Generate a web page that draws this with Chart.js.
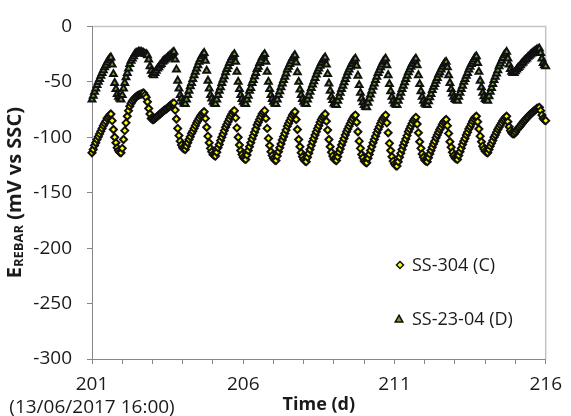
<!DOCTYPE html>
<html>
<head>
<meta charset="utf-8">
<script src="https://cdn.jsdelivr.net/npm/chart.js@4.4.1/dist/chart.umd.min.js"></script>
<style>
  html, body { margin: 0; padding: 0; background: #fff; }
  #wrap { width: 571px; height: 416px; }
</style>
</head>
<body>
<div id="wrap"><canvas id="chart" width="571" height="416"></canvas></div>
<script>
/* E_REBAR of two stainless bars, hourly readings from day 201 to 216 */

const FONT = "'Open Sans', sans-serif";
const TEXT = '#1a1a1a';
const AXIS = '#868686';
const OUTLINE = '#101010';

const START_DAY = 201;
const POINTS_PER_DAY = 24;   // one reading per hour

const SERIES_NAMES = ['SS-304 (C)', 'SS-23-04 (D)'];
const X_TICK_LABELS = {
  201: ['201', '(13/06/2017 16:00)'],
  206: '206',
  211: '211',
  216: '216',
};

// SS-304 (C), mV vs SSC
const ss304 = [
  -114, -111, -107.5, -105, -102, -99.5, -97, -94.5, -92, -89.5, -87.5, -85.5, -83, -81.5, -80, -79,
  -85, -93, -100, -105, -109.5, -112, -113.5, -114,
  -110, -102, -94, -87, -81, -76, -72, -69.5, -67.5, -66, -64.5, -63.5, -62.5, -62, -61.5, -61, -60.5, -60,
  -62, -64, -68, -74, -79, -83, -84, -84,
  -83, -82, -81, -80, -79, -78, -77, -76, -75, -74.5, -73.5, -72.5, -71.5, -70.5, -69.5, -69,
  -75.5, -83.5, -92, -98.5, -103.5, -107, -109.5, -110.5, -111,
  -108, -105, -102, -99.5, -96.5, -94.5, -92, -89.5, -87, -85, -83, -81, -79.5, -78, -77,
  -83, -91, -99, -105, -110, -113, -115.5, -116.5, -117,
  -113.5, -109.5, -106.5, -103, -100, -97, -94, -91, -88.5, -86, -83.5, -81, -79, -77, -76,
  -82.5, -91.5, -100, -107, -112, -115.5, -118, -119.5, -120,
  -116, -112, -108.5, -105, -101.5, -98.5, -95.5, -92.5, -89, -86.5, -84, -81.5, -79, -77.5, -76,
  -83, -92, -101, -107.5, -113, -116.5, -119, -120.5, -121,
  -117, -113, -109.5, -106, -102.5, -99.5, -96.5, -93.5, -90, -87.5, -85, -82.5, -80, -78.5, -77,
  -84, -93, -102, -108.5, -114, -117.5, -120, -121.5, -122,
  -118, -114.5, -111, -107.5, -104, -101, -98, -95, -92, -89.5, -86.5, -84, -82, -80.5, -79,
  -85.5, -93.5, -102, -108.5, -113.5, -117, -119.5, -120.5, -121,
  -117.5, -113.5, -110.5, -107, -104, -101, -98, -95, -92.5, -90, -87.5, -85, -83, -81, -80,
  -86.5, -95, -103.5, -110, -115.5, -118.5, -121.5, -122.5, -123,
  -119, -115.5, -112, -108.5, -105, -102, -99, -96, -93, -90.5, -87.5, -85, -83, -81.5, -80,
  -87, -96, -105.5, -112, -117.5, -121.5, -124, -125.5, -126,
  -122, -118, -114.5, -111, -107.5, -104.5, -101.5, -98.5, -95, -92.5, -90, -87.5, -85, -83.5, -82,
  -88, -96, -104, -110, -115, -118, -120.5, -121.5, -122,
  -118.5, -115, -112, -109, -106, -103.5, -100.5, -98, -95.5, -93, -91, -88.5, -86.5, -85, -84,
  -89.5, -96.5, -104, -109, -113.5, -116.5, -118.5, -119.5, -120,
  -116.5, -113, -110, -106.5, -103.5, -101, -98, -95.5, -92.5, -90.5, -88, -85.5, -83.5, -82, -81,
  -86, -92.5, -99, -104, -108, -110.5, -112.5, -113.5, -114,
  -111, -108, -105.5, -103, -100, -98, -95.5, -93, -91, -89, -87, -85, -83.5, -82, -81,
  -86, -90.5, -94, -96, -97,
  -97,
  -95.5, -93.5, -92, -91, -89.5, -88, -86.5, -85, -84, -82.5, -81.5, -80, -79, -78, -77, -76, -75, -74, -73.5, -73,
  -76, -80, -83, -84.5, -85,
];

// SS-23-04 (D), mV vs SSC
const ss2304 = [
  -66, -62.5, -59, -56, -53, -50, -47.5, -44.5, -42, -39.5, -37, -35, -32.5, -30.5, -29, -28,
  -34.5, -43, -51, -56.5, -61, -63.5, -65, -66,
  -62, -56, -51, -46, -42, -38, -34, -31, -29, -27, -25, -24,
  -24, -23, -23, -23, -24, -24, -25, -25, -26,
  -30, -36, -40, -43, -44,
  -42, -40, -38, -37, -35, -34, -32, -31, -30, -29, -28, -27, -26, -25, -24, -23,
  -30, -39, -49, -56, -62, -65, -68, -69.5, -70,
  -66, -62, -58, -54, -51, -47.5, -44, -41, -38, -35, -32, -29.5, -27, -25.5, -24,
  -31, -40, -49, -56, -62, -65, -68, -69.5, -70,
  -66, -62, -58, -55, -51, -48, -45, -41.5, -38.5, -36, -33, -30.5, -28, -26.5, -25,
  -32, -41, -50, -56.5, -62, -65.5, -68, -69.5, -70,
  -66, -62.5, -58, -55.5, -51, -48.5, -45, -42, -38.5, -36.5, -33, -31, -28, -26.5, -25,
  -32, -41, -50, -56.5, -62, -65.5, -68, -69.5, -70,
  -66, -62, -58.5, -55, -51.5, -48.5, -45.5, -42.5, -39, -36.5, -34, -31.5, -29, -27.5, -26,
  -32.5, -41.5, -50, -57, -62, -65.5, -68, -69.5, -70,
  -66, -62.5, -59, -55.5, -52.5, -49.5, -46.5, -43.5, -40.5, -38, -35.5, -33, -31, -29.5, -28,
  -34.5, -43, -51.5, -58, -63.5, -66.5, -69.5, -70.5, -71,
  -67, -63.5, -60, -56.5, -53.5, -50.5, -47.5, -44.5, -41.5, -39, -36.5, -34, -32, -30.5, -29,
  -35.5, -44.5, -53, -60, -65, -68.5, -71, -72.5, -73,
  -69, -65, -61.5, -58, -54.5, -51.5, -48.5, -45.5, -42, -39.5, -37, -34.5, -32, -30.5, -29,
  -35, -44, -52, -58.5, -63.5, -67, -69.5, -70.5, -71,
  -67, -63.5, -60, -56.5, -53.5, -50.5, -47.5, -44.5, -41.5, -39, -36.5, -34, -32, -30.5, -29,
  -35, -44, -52, -58.5, -63.5, -67, -69.5, -70.5, -71,
  -67.5, -64, -61, -57.5, -54.5, -52, -49, -46.5, -43.5, -41.5, -39, -36.5, -34.5, -33, -32,
  -37, -44, -51, -56.5, -60.5, -63.5, -65.5, -66.5, -67,
  -63.5, -60, -56.5, -53.5, -50, -47.5, -44.5, -42, -39, -36.5, -34, -32, -30, -28, -27,
  -33, -41, -49, -55, -60, -63, -65.5, -66.5, -67,
  -63, -59, -55.5, -52, -48.5, -45.5, -42.5, -39.5, -36, -33.5, -31, -28.5, -26, -24.5, -23,
  -29, -34.5, -38.5, -41, -42,
  -42,
  -40.5, -39, -37.5, -36.5, -35, -33.5, -32.5, -31, -30, -29, -27.5, -26.5, -25.5, -24.5, -23.5, -22.5, -22, -21, -20.5, -20,
  -24, -29, -33, -35, -36,
];

function toPoints(values) {
  return values.map((v, i) => ({ x: START_DAY + i / POINTS_PER_DAY, y: v }));
}

function diamond(ctx, x, y, r) {
  ctx.beginPath();
  ctx.moveTo(x, y - r); ctx.lineTo(x + r, y); ctx.lineTo(x, y + r); ctx.lineTo(x - r, y);
  ctx.closePath(); ctx.fill(); ctx.stroke();
}

function triangle(ctx, x, y, r) {
  ctx.beginPath();
  ctx.moveTo(x, y - r); ctx.lineTo(x + r, y + r * 0.8); ctx.lineTo(x - r, y + r * 0.8);
  ctx.closePath(); ctx.fill(); ctx.stroke();
}

const decorations = {
  id: 'decorations',
  beforeDraw(chart) {
    // light plot-area border on top and right
    const { ctx, chartArea: a } = chart;
    ctx.save();
    ctx.strokeStyle = '#c4c4c4';
    ctx.lineWidth = 1.5;
    ctx.beginPath();
    ctx.moveTo(a.left, a.top);
    ctx.lineTo(a.right, a.top);
    ctx.lineTo(a.right, a.bottom);
    ctx.stroke();
    ctx.restore();
  },
  afterDraw(chart) {
    const { ctx, chartArea: a } = chart;
    ctx.save();
    ctx.fillStyle = TEXT;

    // x title
    ctx.font = `bold 18px ${FONT}`;
    ctx.textAlign = 'center';
    ctx.textBaseline = 'middle';
    ctx.fillText('Time (d)', (a.left + a.right) / 2, 405);

    // y title, E with REBAR subscript
    const big = `bold 20px ${FONT}`, small = `bold 13px ${FONT}`;
    ctx.font = big; const wE = ctx.measureText('E').width;
    ctx.font = small; const wSub = ctx.measureText('REBAR').width;
    ctx.font = big; const wRest = ctx.measureText(' (mV vs SSC)').width;
    ctx.save();
    ctx.translate(15, (a.top + a.bottom) / 2);
    ctx.rotate(-Math.PI / 2);
    ctx.textAlign = 'left';
    let x = -(wE + wSub + wRest) / 2;
    ctx.font = big; ctx.fillText('E', x, 0); x += wE;
    ctx.font = small; ctx.fillText('REBAR', x, 4); x += wSub;
    ctx.font = big; ctx.fillText(' (mV vs SSC)', x, 0);
    ctx.restore();

    // legend inside the plot
    ctx.font = `18px ${FONT}`;
    ctx.textAlign = 'left';
    ctx.lineWidth = 1.5;
    ctx.strokeStyle = OUTLINE;
    ctx.fillStyle = '#ffff00';
    diamond(ctx, 400, 265, 3.5);
    ctx.fillStyle = '#72a040';
    triangle(ctx, 399, 319, 3.8);
    ctx.fillStyle = TEXT;
    ctx.fillText(SERIES_NAMES[0], 412, 266);
    ctx.fillText(SERIES_NAMES[1], 412, 320);
    ctx.restore();
  },
};

new Chart(document.getElementById('chart'), {
  type: 'scatter',
  data: {
    datasets: [
      {
        label: SERIES_NAMES[0],
        data: toPoints(ss304),
        pointStyle: 'rectRot',
        pointRadius: 3.5,
        backgroundColor: '#ffff00',
        borderColor: OUTLINE,
        borderWidth: 2,
        clip: false,
      },
      {
        label: SERIES_NAMES[1],
        data: toPoints(ss2304),
        pointStyle: 'triangle',
        pointRadius: 3.9,
        backgroundColor: '#72a040',
        borderColor: OUTLINE,
        borderWidth: 2,
        clip: false,
      },
    ],
  },
  options: {
    responsive: false,
    animation: false,
    events: [],
    layout: { padding: { top: 18, right: 18, left: 0, bottom: 0 } },
    plugins: { legend: { display: false }, tooltip: { enabled: false } },
    scales: {
      x: {
        type: 'linear',
        min: 201, max: 216,
        afterFit(s) { s.height = 57; },
        ticks: {
          stepSize: 1,
          autoSkip: false,
          maxRotation: 0,
          padding: 9,
          color: TEXT,
          font: { family: FONT, size: 19 },
          callback: v => X_TICK_LABELS[v] ?? '',
        },
        grid: { drawOnChartArea: false, tickLength: 5, color: AXIS },
        border: { color: AXIS, width: 1 },
      },
      y: {
        min: -300, max: 0,
        afterFit(s) { s.width = 92; },
        ticks: {
          stepSize: 50,
          padding: 15,
          color: TEXT,
          font: { family: FONT, size: 19 },
        },
        grid: { drawOnChartArea: false, tickLength: 5, color: AXIS },
        border: { color: AXIS, width: 1 },
      },
    },
  },
  plugins: [decorations],
});
</script>
</body>
</html>
